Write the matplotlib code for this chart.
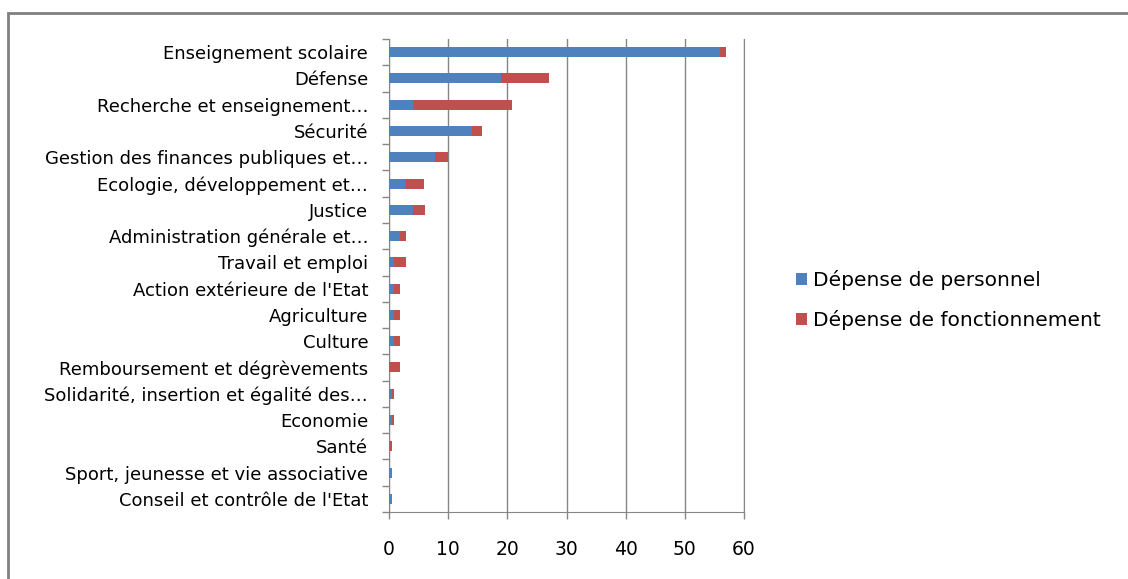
import matplotlib
matplotlib.use('Agg')
import matplotlib.pyplot as plt
from matplotlib.patches import Rectangle

# Budget by mission (billions EUR)
categories = [
    "Enseignement scolaire",
    "Défense",
    "Recherche et enseignement…",
    "Sécurité",
    "Gestion des finances publiques et…",
    "Ecologie, développement et…",
    "Justice",
    "Administration générale et…",
    "Travail et emploi",
    "Action extérieure de l'Etat",
    "Agriculture",
    "Culture",
    "Remboursement et dégrèvements",
    "Solidarité, insertion et égalité des…",
    "Economie",
    "Santé",
    "Sport, jeunesse et vie associative",
    "Conseil et contrôle de l'Etat",
]
personnel = [56, 19, 4.1, 14, 7.8, 2.9, 4.1, 1.8, 0.8, 0.8, 0.8, 0.8, 0, 0.5, 0.5, 0.1, 0.5, 0.5]
fonctionnement = [1, 8, 16.7, 1.8, 2.2, 3, 1.9, 1.1, 2.1, 1.0, 1.0, 1.0, 1.8, 0.3, 0.3, 0.35, 0, 0]
xticks = [0, 10, 20, 30, 40, 50, 60]

blue = '#4F81BD'
red = '#C0504D'
grid_grey = '#868686'

fig = plt.figure(figsize=(11.28, 5.79), dpi=100)
W, H = 1128, 579
ax = fig.add_axes([389 / W, 1 - 512 / H, (744 - 389) / W, (512 - 39) / H])

# Outer chart frame
fig.patches.append(Rectangle((8 / W, -0.1), 1.2, 1 - 13 / H + 0.1, transform=fig.transFigure,
                             fill=False, edgecolor='#808080', linewidth=2, zorder=0))

n = len(categories)
ypos = list(range(n))
ax.barh(ypos, personnel, height=0.38, color=blue, label='Dépense de personnel', zorder=3)
ax.barh(ypos, fonctionnement, height=0.38, left=personnel, color=red,
        label='Dépense de fonctionnement', zorder=3)

ax.set_ylim(n - 0.5, -0.5)
ax.set_xlim(0, 60)
ax.set_xticks(xticks)
ax.set_xticklabels([str(v) for v in xticks], fontsize=13.5)
ax.set_yticks(ypos)
ax.set_yticklabels(categories, fontsize=13)
ax.tick_params(axis='y', length=0, pad=15)
ax.tick_params(axis='x', length=5, width=1, color=grid_grey, pad=15, direction='out')

# category separators on the value axis
ax.set_yticks([i - 0.5 for i in range(n + 1)], minor=True)
ax.tick_params(axis='y', which='minor', length=5, width=1, color=grid_grey, direction='out')

ax.grid(axis='x', color=grid_grey, linewidth=1, zorder=0)
ax.spines['top'].set_visible(False)
for side in ['left', 'bottom', 'right']:
    ax.spines[side].set_color(grid_grey)

fig.legend(loc='center left', bbox_to_anchor=(778 / W, 1 - 300 / H), frameon=False,
           fontsize=14.5, handlelength=0.55, handleheight=0.55, handletextpad=0.3,
           labelspacing=1.0)

fig.savefig('out.png', dpi=100)
